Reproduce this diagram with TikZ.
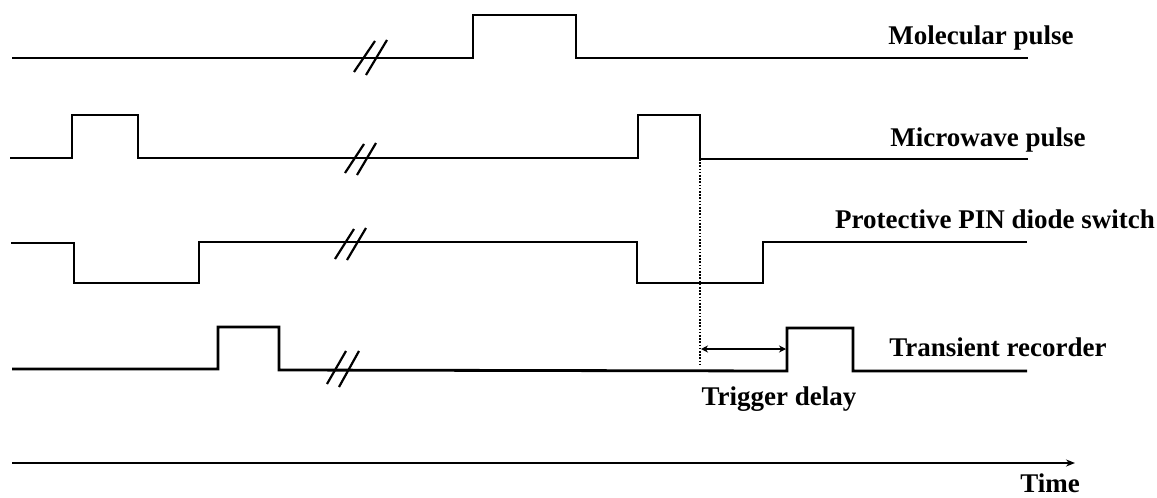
\documentclass[tikz,border=0pt]{standalone}
\usepackage{fontspec}
\setmainfont{Liberation Serif}
\usetikzlibrary{arrows.meta}
\tikzset{
  wave/.style={line width=2.8pt, line join=miter},
  brk/.style={line width=2.2pt},
  lbl/.style={font=\fontsize{27}{30}\selectfont\bfseries, inner sep=0pt, anchor=base},
}
\begin{document}
\begin{tikzpicture}[x=1pt,y=-1pt]
\useasboundingbox (0,0) rectangle (1157,498);
% Molecular pulse
\draw[wave] (12,58) -- (473,58) -- (473,15) -- (576,15) -- (576,58) -- (1028,58);
\draw[brk] (354,72) -- (375,41) (366,75) -- (387,40);
% Microwave pulse
\draw[wave] (10,158) -- (72,158) -- (72,115) -- (138,115) -- (138,158) -- (638,158) -- (638,115) -- (700,115) -- (700,159) -- (1028,159);
\draw[brk] (345,173) -- (364,144) (357,175) -- (376,143);
% Protective PIN diode switch
\draw[wave] (11,243) -- (74,243) -- (74,283) -- (199,283) -- (199,242) -- (637,242) -- (637,283) -- (763,283) -- (763,242) -- (1027,242);
\draw[brk] (335,259) -- (354,229) (347,260) -- (366,228);
% Transient recorder
\draw[wave] (12,369) -- (218,369) -- (218,327) -- (279,327) -- (279,370) -- (787,371) -- (787,328) -- (853,328) -- (853,371) -- (1027,371);
\draw[brk] (327,384) -- (346,351) (339,387) -- (359,351);
% Trigger delay
\coordinate (dtop) at (700,159);
\coordinate (dbot) at (700,366);
\draw[line width=2pt, dash pattern=on 1.6pt off 1.6pt] (dtop) -- (dbot);
\coordinate (a1) at (701,349);
\coordinate (a2) at (786,349);
\draw[line width=1.8pt, {Stealth[length=7pt,width=7pt]}-{Stealth[length=7pt,width=7pt]}] (a1) -- (a2);
% Time axis
\coordinate (t0) at (12,463);
\coordinate (t1) at (1075,463);
\draw[line width=2pt, -{Stealth[length=9pt,width=7pt]}] (t0) -- (t1);
% Labels
\node[lbl] (mol) at (981,44) {Molecular pulse};
\node[lbl] (mic) at (988,146) {Microwave pulse};
\node[lbl] (pin) at (995,228) {Protective PIN diode switch};
\node[lbl] (tra) at (998,356) {Transient recorder};
\node[lbl] (trg) at (779,405) {Trigger delay};
\node[lbl] (tim) at (1050,492) {Time};
\end{tikzpicture}
\end{document}
